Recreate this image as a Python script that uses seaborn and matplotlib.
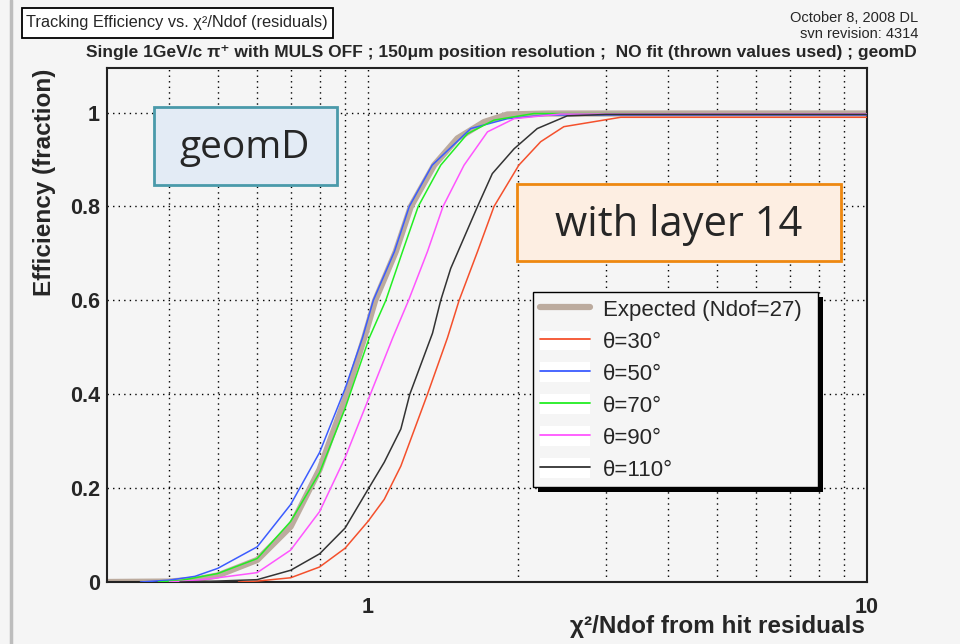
import numpy as np
import pandas as pd
import matplotlib
matplotlib.use("Agg")
import matplotlib.pyplot as plt
import matplotlib.ticker as mticker
import matplotlib.transforms as mtransforms
from matplotlib.lines import Line2D
from matplotlib.patches import Rectangle, Patch
from matplotlib.legend_handler import HandlerTuple
import seaborn as sns

# ---------------- data ----------------
exp_x = [0.30, 0.40, 0.45, 0.50, 0.60, 0.70, 0.80, 0.90, 0.983, 1.034, 1.137, 1.219, 1.357, 1.511, 1.709, 1.903, 2.30, 10.0]
exp_y = [0.000, 0.001, 0.005, 0.014, 0.047, 0.118, 0.240, 0.390, 0.520, 0.600, 0.704, 0.800, 0.888, 0.945, 0.980, 0.996, 0.998, 0.998]

t30_x = [0.55, 0.60, 0.70, 0.80, 0.90, 1.00, 1.078, 1.164, 1.316, 1.443, 1.523, 1.658, 1.789, 2.006, 2.219, 2.469, 3.21, 10.0]
t30_y = [0.000, 0.002, 0.009, 0.032, 0.072, 0.129, 0.176, 0.247, 0.400, 0.520, 0.600, 0.704, 0.800, 0.888, 0.938, 0.970, 0.990, 0.990]

t50_x = [0.35, 0.40, 0.45, 0.50, 0.60, 0.70, 0.80, 0.90, 0.975, 1.025, 1.130, 1.210, 1.345, 1.607, 1.903, 2.29, 10.0]
t50_y = [0.000, 0.004, 0.012, 0.029, 0.075, 0.165, 0.276, 0.412, 0.520, 0.600, 0.704, 0.800, 0.888, 0.966, 0.987, 0.995, 0.995]

t70_x = [0.38, 0.42, 0.50, 0.60, 0.70, 0.80, 0.90, 1.006, 1.086, 1.173, 1.261, 1.399, 1.583, 1.789, 2.151, 10.0]
t70_y = [0.000, 0.003, 0.018, 0.050, 0.129, 0.233, 0.370, 0.520, 0.600, 0.704, 0.800, 0.888, 0.955, 0.984, 0.998, 0.997]

t90_x = [0.40, 0.45, 0.50, 0.60, 0.70, 0.80, 0.90, 1.00, 1.121, 1.206, 1.316, 1.414, 1.558, 1.736, 1.963, 2.43, 10.0]
t90_y = [0.000, 0.003, 0.009, 0.020, 0.068, 0.150, 0.265, 0.387, 0.520, 0.600, 0.704, 0.800, 0.888, 0.959, 0.987, 0.997, 0.997]

t110_x = [0.42, 0.50, 0.60, 0.70, 0.80, 0.90, 1.00, 1.078, 1.164, 1.213, 1.347, 1.399, 1.465, 1.658, 1.775, 1.963, 2.184, 2.507, 3.0, 10.0]
t110_y = [0.000, 0.002, 0.005, 0.025, 0.060, 0.115, 0.197, 0.255, 0.326, 0.400, 0.530, 0.600, 0.668, 0.800, 0.870, 0.923, 0.966, 0.993, 0.996, 0.996]

series_names = ["Expected (Ndof=27)", "θ=30°", "θ=50°", "θ=70°", "θ=90°", "θ=110°"]
series_x = [exp_x, t30_x, t50_x, t70_x, t90_x, t110_x]
series_y = [exp_y, t30_y, t50_y, t70_y, t90_y, t110_y]
series_colors = ["#bcab9e", "#f4502c", "#3c5cff", "#22ee22", "#ff55ff", "#333333"]

y_ticks = [0, 0.2, 0.4, 0.6, 0.8, 1.0]
y_tick_labels = ["0", "0.2", "0.4", "0.6", "0.8", "1"]
x_ticks = [1, 10]
x_tick_labels = ["1", "10"]

df = pd.concat(
    [pd.DataFrame({"x": sx, "y": sy, "series": n}) for n, sx, sy in zip(series_names, series_x, series_y)],
    ignore_index=True,
)

# ---------------- figure ----------------
BG = "#f5f5f5"
sns.set_style("white")
plt.rcParams["font.family"] = ["Liberation Sans", "DejaVu Sans"]

fig = plt.figure(figsize=(9.6, 6.44), dpi=100, facecolor=BG)
ax = fig.add_axes([107 / 960, 62 / 644, 760 / 960, 514 / 644])
ax.set_facecolor(BG)

pal = dict(zip(series_names, series_colors))
sns.lineplot(data=df[df.series == series_names[0]], x="x", y="y", color=pal[series_names[0]],
             linewidth=4.5, estimator=None, legend=False, ax=ax, zorder=2)
sns.lineplot(data=df[df.series != series_names[0]], x="x", y="y", hue="series",
             palette={k: pal[k] for k in series_names[1:]}, linewidth=1.1,
             estimator=None, legend=False, ax=ax, zorder=3)

ax.set_xscale("log")
ax.set_xlim(0.3, 10)
ax.set_ylim(0, 1.095)
ax.set_xlabel("")
ax.set_ylabel("")

ax.xaxis.set_major_locator(mticker.FixedLocator(x_ticks))
ax.xaxis.set_major_formatter(mticker.FixedFormatter(x_tick_labels))
ax.xaxis.set_minor_locator(mticker.FixedLocator([0.4, 0.5, 0.6, 0.7, 0.8, 0.9, 2, 3, 4, 5, 6, 7, 8, 9]))
ax.xaxis.set_minor_formatter(mticker.NullFormatter())
ax.yaxis.set_major_locator(mticker.FixedLocator(y_ticks))
ax.yaxis.set_major_formatter(mticker.FixedFormatter(y_tick_labels))
ax.yaxis.set_minor_locator(mticker.FixedLocator(np.arange(0.05, 1.09, 0.05)))

ax.tick_params(axis="both", which="both", direction="in", color="#222222", width=1.2,
               top=False, right=False)
ax.tick_params(axis="y", which="major", length=16.5, pad=5, labelsize=15.5)
ax.tick_params(axis="y", which="minor", length=8.5)
ax.tick_params(axis="x", which="major", length=10, pad=11, labelsize=15.5)
ax.tick_params(axis="x", which="minor", length=4.3)
for lab in ax.get_xticklabels() + ax.get_yticklabels():
    lab.set_fontweight("bold")

dots = (0, (1, 3))
ax.grid(which="major", axis="y", linestyle=dots, color="black", linewidth=1)
ax.grid(which="both", axis="x", linestyle=dots, color="black", linewidth=1)
for s in ax.spines.values():
    s.set_color("#222222")
    s.set_linewidth(1.5)

# legend (white background box behind each theta line sample, as in the reference)
handles = [Line2D([], [], color=series_colors[0], lw=4.5)]
for c in series_colors[1:]:
    handles.append((Patch(facecolor="white", edgecolor="none"), Line2D([], [], color=c, lw=1.3)))
leg = ax.legend(handles, series_names, loc="upper left",
                bbox_to_anchor=((533 - 107) / 760, (582 - 292) / 514, (818 - 533) / 760, 0.0),
                mode="expand", borderaxespad=0, fancybox=False, framealpha=1,
                facecolor=BG, edgecolor="black", fontsize=16, handlelength=2.25,
                handleheight=1.0, handletextpad=0.6, labelspacing=0.42, borderpad=0.3,
                handler_map={tuple: HandlerTuple(ndivide=1, pad=0)})
leg.get_frame().set_linewidth(1.0)
leg.set_zorder(6)
fig.canvas.draw()
bb = leg.get_window_extent(fig.canvas.get_renderer())
ax.add_patch(Rectangle((bb.x0 + 5, bb.y0 - 5), bb.width, bb.height, facecolor="black",
                       edgecolor="none", transform=mtransforms.IdentityTransform(),
                       zorder=5.5, clip_on=False))

# axis titles
fig.text(865 / 960, 1 - 627 / 644, "χ²/Ndof from hit residuals", ha="right", va="center",
         fontsize=17.5, fontweight="bold")
fig.text(45 / 960, 1 - 69 / 644, "Efficiency (fraction)", rotation=90, ha="center", va="top",
         fontsize=17.5, fontweight="bold")

# title block
fig.add_artist(Rectangle((22 / 960, 1 - 38 / 644), 311 / 960, 30 / 644, transform=fig.transFigure,
                         facecolor="white", edgecolor="black", linewidth=1.3))
fig.text(177 / 960, 1 - 23 / 644, "Tracking Efficiency vs. χ²/Ndof (residuals)", ha="center",
         va="center", fontsize=11.8)
fig.text(918 / 960, 1 - 18 / 644, "October 8, 2008 DL", ha="right", va="center", fontsize=10.5)
fig.text(918 / 960, 1 - 34 / 644, "svn revision: 4314", ha="right", va="center", fontsize=10.5)
fig.text(501 / 960, 1 - 52 / 644,
         "Single 1GeV/c π⁺ with MULS OFF ; 150μm position resolution ;  NO fit (thrown values used) ; geomD",
         ha="center", va="center", fontsize=12.5, fontweight="bold",
         family=["Liberation Sans", "DejaVu Sans"])

# annotation boxes
fig.add_artist(Rectangle((154 / 960, 1 - 185 / 644), 183 / 960, 78 / 644, transform=fig.transFigure,
                         facecolor="#e3ebf5", edgecolor="#4a9aaa", linewidth=2, zorder=10))
fig.text(245 / 960, 1 - 148 / 644, "geomD", ha="center", va="center", fontsize=28,
         family=["Open Sans", "DejaVu Sans"], zorder=11)
fig.add_artist(Rectangle((517 / 960, 1 - 261 / 644), 324 / 960, 77 / 644, transform=fig.transFigure,
                         facecolor="#fdeee2", edgecolor="#ee8811", linewidth=2, zorder=10))
fig.text(679 / 960, 1 - 225 / 644, "with layer 14", ha="center", va="center", fontsize=30,
         family=["Open Sans", "DejaVu Sans"], zorder=11)

# slide border on the left
fig.add_artist(Line2D([11 / 960, 11 / 960], [0, 1], transform=fig.transFigure, color="#bdbdbd", lw=2.5))

fig.savefig("out.png", dpi=100, facecolor=BG)
